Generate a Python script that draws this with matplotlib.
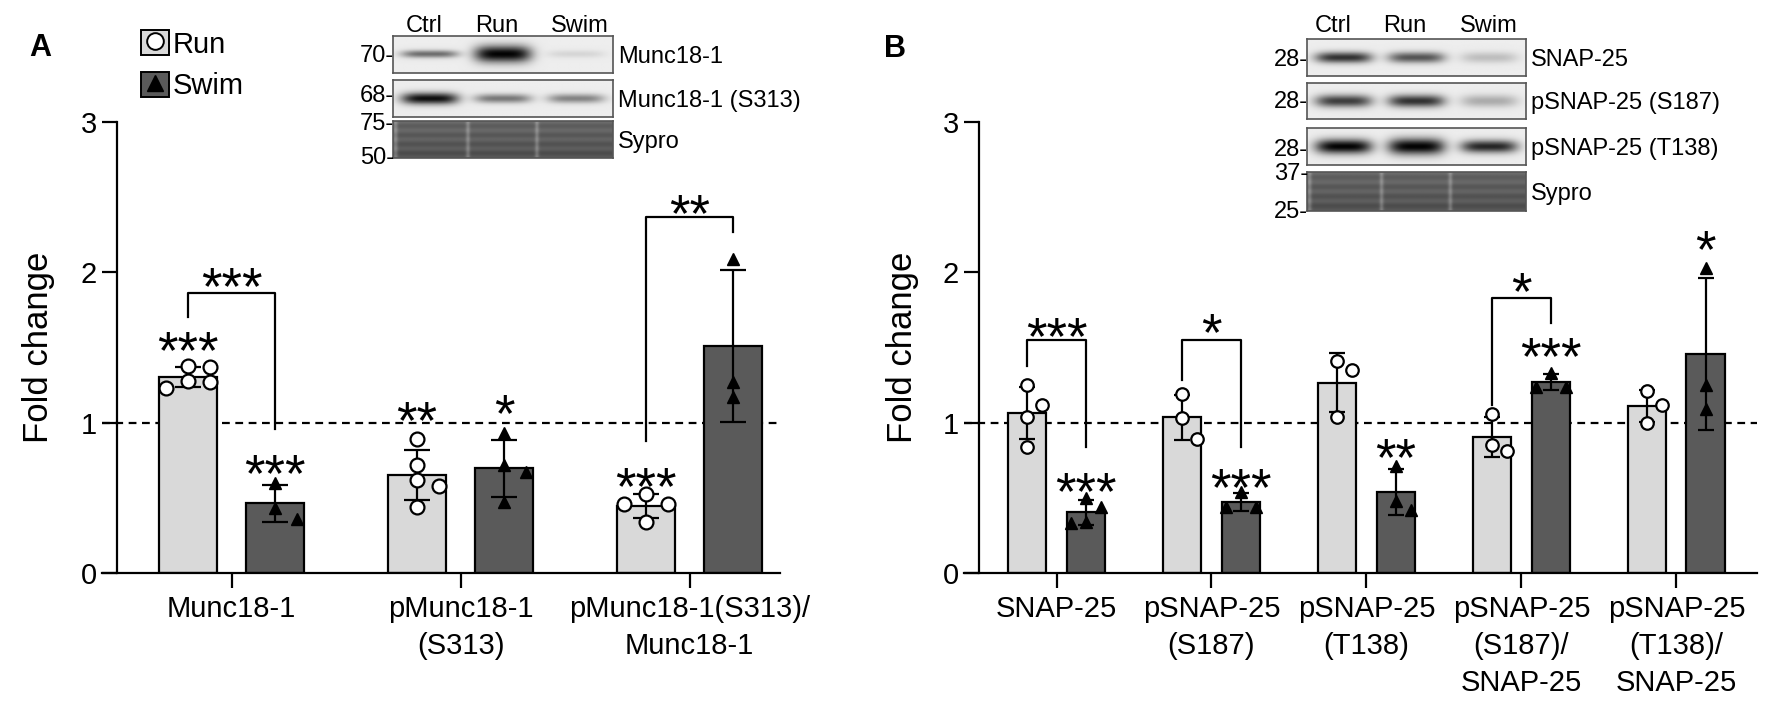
import numpy as np
import matplotlib
matplotlib.use("Agg")
from matplotlib import pyplot as plt
from matplotlib.patches import Patch
from matplotlib.lines import Line2D
from matplotlib.legend_handler import HandlerTuple

plt.rcParams['font.family'] = ['Liberation Sans', 'DejaVu Sans']

W, H = 1773, 712
RUN_COLOR = '#d9d9d9'
SWIM_COLOR = '#5a5a5a'

# ---- panel A ----
labels_a = ["Munc18-1", "pMunc18-1\n(S313)", "pMunc18-1(S313)/\nMunc18-1"]
run_a = [[1.38, 1.37, 1.28, 1.27, 1.23],
         [0.89, 0.72, 0.62, 0.58, 0.44],
         [0.525, 0.46, 0.46, 0.34]]
swim_a = [[0.60, 0.43, 0.36],
          [0.93, 0.72, 0.67, 0.47],
          [2.09, 1.27, 1.17]]
# (group, bar, text, y of star centre)
stars_a = [(0, 'run', '***', 1.57), (0, 'swim', '***', 0.75),
           (1, 'run', '**', 1.10), (1, 'swim', '*', 1.15),
           (2, 'run', '***', 0.665)]
# (group, top, left leg end, right leg end, text, y of text centre)
brackets_a = [(0, 1.865, 1.70, 0.956, '***', 1.99),
              (2, 2.37, 0.88, 2.27, '**', 2.475)]

# ---- panel B ----
labels_b = ["SNAP-25", "pSNAP-25\n(S187)", "pSNAP-25\n(T138)",
            "pSNAP-25\n(S187)/\nSNAP-25", "pSNAP-25\n(T138)/\nSNAP-25"]
run_b = [[1.25, 1.12, 1.04, 0.84],
         [1.19, 1.03, 0.89],
         [1.41, 1.35, 1.04],
         [1.06, 0.85, 0.81],
         [1.21, 1.12, 1.00]]
swim_b = [[0.50, 0.44, 0.34, 0.33],
          [0.54, 0.44, 0.44],
          [0.71, 0.48, 0.42],
          [1.33, 1.24, 1.24],
          [2.03, 1.25, 1.09]]
stars_b = [(0, 'swim', '***', 0.632), (1, 'swim', '***', 0.654),
           (2, 'swim', '**', 0.854), (3, 'swim', '***', 1.53),
           (4, 'swim', '*', 2.24)]
brackets_b = [(0, 1.548, 1.38, 0.84, '***', 1.66),
              (1, 1.548, 1.285, 0.84, '*', 1.685),
              (3, 1.83, 1.12, 1.665, '*', 1.96)]

# ---- western blot insets: band darkness for Ctrl, Run, Swim ----
lanes = ["Ctrl", "Run", "Swim"]
blot_a_names = ["Munc18-1", "Munc18-1 (S313)", "Sypro"]
blot_a_levels = [[0.55, 1.0, 0.1], [0.95, 0.5, 0.45], None]
blot_a_thick = [[0.2, 0.45, 0.2], [0.32, 0.25, 0.25], None]
blot_a_mw = [("70", 53), ("68", 94), ("75", 121), ("50", 156)]

blot_b_names = ["SNAP-25", "pSNAP-25 (S187)", "pSNAP-25 (T138)", "Sypro"]
blot_b_levels = [[0.8, 0.65, 0.2], [0.75, 0.8, 0.28], [1.0, 1.0, 0.85], None]
blot_b_thick = [[0.3, 0.3, 0.3], [0.35, 0.35, 0.35], [0.4, 0.45, 0.35], None]
blot_b_mw = [("28", 57), ("28", 99), ("28", 147), ("37", 172), ("25", 209)]

OFF = 0.19
BW = 0.25
STAR_FS = 38
TXT_FS = 21


def fig_rect(x0, y0, x1, y1):
    return [x0 / W, 1 - y1 / H, (x1 - x0) / W, (y1 - y0) / H]


def swarm(ax, xc, values, step=0.095, diam=14):
    # push points sideways when they sit on top of each other
    placed = []
    out = np.zeros(len(values))
    px_step = abs(ax.transData.transform((step, 0))[0] - ax.transData.transform((0, 0))[0])
    for i in np.argsort(values)[::-1]:
        v = values[i]
        for k in [0, 1, -1, 2, -2]:
            x = xc + k * step
            px, py = ax.transData.transform((x, v))
            if all(not (abs(px - qx) < 0.9 * px_step and abs(py - qy) < diam)
                   for qx, qy in placed):
                break
        placed.append((px, py))
        out[i] = x
    return out


def draw_panel(ax, labels, run, swim, stars, brackets, xlim, capsize, msize, diam):
    n = len(labels)
    ax.set_xlim(*xlim)
    ax.set_ylim(0, 3)
    xs = np.arange(n)
    for vals, sign, color, marker in [(run, -1, RUN_COLOR, 'o'), (swim, 1, SWIM_COLOR, '^')]:
        means = [np.mean(v) for v in vals]
        sds = [np.std(v, ddof=1) for v in vals]
        bx = xs + sign * OFF
        ax.bar(bx, means, width=BW, color=color, edgecolor='black', linewidth=1.6, zorder=2)
        ax.errorbar(bx, means, yerr=sds, fmt='none', ecolor='black', elinewidth=1.6,
                    capsize=capsize, capthick=1.6, zorder=3, clip_on=False)
        for x0, v in zip(bx, vals):
            px = swarm(ax, x0, v, diam=diam)
            if marker == 'o':
                ax.plot(px, v, 'o', ms=msize, mfc='white', mec='black', mew=1.6,
                        ls='', zorder=4, clip_on=False)
            else:
                ax.plot(px, v, '^', ms=msize - 1, color='black', ls='', zorder=4,
                        clip_on=False)
    ax.axhline(1, color='black', ls=(0, (3.5, 2.5)), lw=1.6, zorder=1)

    for g, bar, text, y in stars:
        x = g + (-OFF if bar == 'run' else OFF)
        ax.annotate(text, (x, y), xytext=(0, -0.58 * STAR_FS), textcoords='offset points',
                    ha='center', va='baseline', fontsize=STAR_FS, zorder=5,
                    annotation_clip=False)
    for g, top, lb, rb, text, y in brackets:
        xl, xr = g - OFF, g + OFF
        ax.plot([xl, xl, xr, xr], [lb, top, top, rb], color='black', lw=1.6,
                zorder=5, clip_on=False)
        ax.annotate(text, (g, y), xytext=(0, -0.58 * STAR_FS), textcoords='offset points',
                    ha='center', va='baseline', fontsize=STAR_FS, zorder=5,
                    annotation_clip=False)

    ax.spines['top'].set_visible(False)
    ax.spines['right'].set_visible(False)
    ax.spines['left'].set_position(('data', -0.5))
    for s in ('left', 'bottom'):
        ax.spines[s].set_linewidth(1.6)
    ax.set_yticks([0, 1, 2, 3])
    ax.set_xticks(xs)
    ax.set_xticklabels(labels, fontsize=TXT_FS, linespacing=1.42)
    ax.tick_params(axis='y', labelsize=TXT_FS, length=10.5, width=1.6, pad=4)
    ax.tick_params(axis='x', length=10.5, width=1.6, pad=5)
    ax.set_facecolor('none')


def strip_image(levels, thick, nx=240, ny=48):
    x = np.linspace(0, 1, nx)[None, :]
    y = np.linspace(-1, 1, ny)[:, None]
    img = np.full((ny, nx), 0.93)
    for i, (a, t) in enumerate(zip(levels, thick)):
        xc = (i + 0.5) / 3
        band = np.exp(-np.abs((x - xc) / 0.13) ** 4) * np.exp(-(y / t) ** 2)
        img = img - 0.92 * a * band
    return np.clip(img, 0, 1)


def sypro_image(nx=240, ny=48):
    x = np.linspace(0, 1, nx)[None, :]
    y = np.linspace(0, 1, ny)[:, None]
    img = 0.40 - 0.08 * y + 0.03 * np.cos(2 * np.pi * 4 * y) + 0 * x
    for xb in (0.01, 0.34, 0.655):
        img = img + 0.16 * np.exp(-((x - xb) / 0.01) ** 2)
    return np.clip(img, 0, 1)


def draw_blot(fig, x0, x1, rows, names, levels, thick, mw, lane_pos):
    for (y0, y1), name, lv, th in zip(rows, names, levels, thick):
        bax = fig.add_axes(fig_rect(x0, y0, x1, y1))
        img = sypro_image() if lv is None else strip_image(lv, th)
        bax.imshow(img, cmap='gray', vmin=0, vmax=1, aspect='auto', interpolation='bilinear')
        bax.set_xticks([])
        bax.set_yticks([])
        for s in bax.spines.values():
            s.set_color('#555555')
            s.set_linewidth(1.2)
        fig.text((x1 + 5) / W, 1 - (y0 + y1) / 2 / H, name, fontsize=17,
                 ha='left', va='center_baseline')
    for lab, f in zip(lanes, lane_pos):
        fig.text((x0 + f * (x1 - x0)) / W, 1 - 24 / H, lab, fontsize=17,
                 ha='center', va='center_baseline')
    for lab, y in mw:
        fig.text((x0 + 1) / W, 1 - y / H, lab + "-", fontsize=17,
                 ha='right', va='center_baseline')


fig = plt.figure(figsize=(W / 100, H / 100), dpi=100)

ax_a = fig.add_axes(fig_rect(102, 122, 780, 573))
draw_panel(ax_a, labels_a, run_a, swim_a, stars_a, brackets_a, (-0.566, 2.395),
           capsize=9.5, msize=10, diam=14)
ax_a.set_ylabel("Fold change", fontsize=25)
ax_a.yaxis.set_label_coords(-0.07, 0.5)

ax_b = fig.add_axes(fig_rect(964, 122, 1757, 573))
draw_panel(ax_b, labels_b, run_b, swim_b, stars_b, brackets_b, (-0.597, 4.52),
           capsize=6, msize=9, diam=22)
ax_b.set_ylabel("Fold change", fontsize=25)
ax_b.yaxis.set_label_coords(-0.057, 0.5)

fig.text(40 / W, 1 - 48 / H, "A", fontsize=22, fontweight='bold', ha='center', va='center')
fig.text(895 / W, 1 - 49 / H, "B", fontsize=22, fontweight='bold', ha='center', va='center')

handles = [(Patch(facecolor=RUN_COLOR, edgecolor='black', linewidth=1.4),
            Line2D([], [], marker='o', ms=12, mfc='white', mec='black', mew=1.4, ls='')),
           (Patch(facecolor=SWIM_COLOR, edgecolor='black', linewidth=1.4),
            Line2D([], [], marker='^', ms=11, color='black', ls=''))]
fig.legend(handles, ["Run", "Swim"], loc='upper left', bbox_to_anchor=(141 / W, 1 - 30 / H),
           frameon=False, borderpad=0, borderaxespad=0, handlelength=0.95, handleheight=0.95,
           handletextpad=0.12, labelspacing=0.45, fontsize=21,
           handler_map={tuple: HandlerTuple(ndivide=1)})

draw_blot(fig, 393, 613, [(36, 73), (80, 117), (121, 158)], blot_a_names,
          blot_a_levels, blot_a_thick, blot_a_mw, [0.14, 0.473, 0.85])
draw_blot(fig, 1307, 1526, [(39, 76), (83, 119), (128, 165), (172, 211)], blot_b_names,
          blot_b_levels, blot_b_thick, blot_b_mw, [0.119, 0.447, 0.831])

fig.savefig("out.png", dpi=100)
